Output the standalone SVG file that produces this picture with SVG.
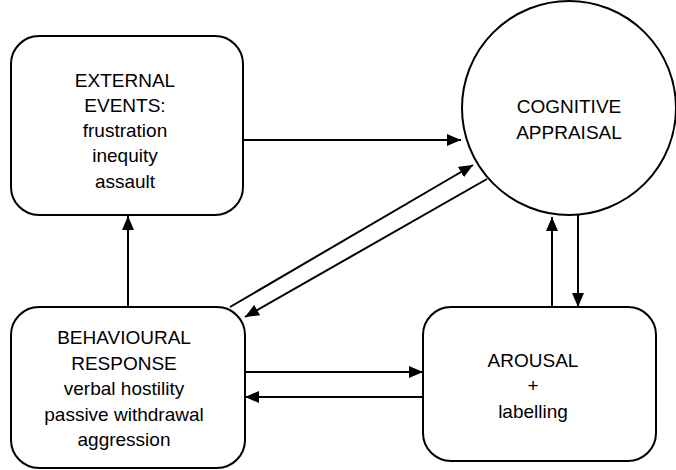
<svg xmlns="http://www.w3.org/2000/svg" width="676" height="470" viewBox="0 0 676 470">
<defs>
<marker id="ah" viewBox="0 0 14 12" refX="14" refY="6" markerWidth="14" markerHeight="12" markerUnits="userSpaceOnUse" orient="auto">
<path d="M0,0 L14,6 L0,12 Z" fill="#000"/>
</marker>
</defs>
<style>
.box{fill:#fff;stroke:#000;stroke-width:2}
.t{font-family:"Liberation Sans",Arial,sans-serif;font-size:19px;fill:#000;text-anchor:middle}
.c{stroke:#000;stroke-width:2;fill:none;marker-end:url(#ah)}
</style>
<rect width="676" height="470" fill="#fff"/>
<g id="connectors">
<line class="c" x1="243" y1="140" x2="461" y2="140"/>
<line class="c" x1="128" y1="307" x2="128" y2="216"/>
<line class="c" x1="230" y1="307" x2="473" y2="165"/>
<line class="c" x1="487" y1="179" x2="245" y2="317"/>
<line class="c" x1="552" y1="307" x2="552" y2="217"/>
<line class="c" x1="578" y1="215" x2="578" y2="307"/>
<line class="c" x1="245" y1="372" x2="423" y2="372"/>
<line class="c" x1="423" y1="397" x2="245" y2="397"/>
</g>
<g id="external">
<rect class="box" x="11" y="36" width="232" height="179" rx="28"/>
<text class="t" x="125" y="87">EXTERNAL</text>
<text class="t" x="125" y="112">EVENTS:</text>
<text class="t" x="125" y="137">frustration</text>
<text class="t" x="125" y="162">inequity</text>
<text class="t" x="125" y="188">assault</text>
</g>
<g id="cognitive">
<circle class="box" cx="569" cy="108" r="107"/>
<text class="t" x="569" y="113">COGNITIVE</text>
<text class="t" x="569" y="139">APPRAISAL</text>
</g>
<g id="behavioural">
<rect class="box" x="11" y="307" width="234" height="161" rx="28"/>
<text class="t" x="124" y="344">BEHAVIOURAL</text>
<text class="t" x="124" y="370">RESPONSE</text>
<text class="t" x="124" y="395">verbal hostility</text>
<text class="t" x="124" y="421">passive withdrawal</text>
<text class="t" x="124" y="446">aggression</text>
</g>
<g id="arousal">
<rect class="box" x="423" y="307" width="233" height="154" rx="28"/>
<text class="t" x="533" y="367">AROUSAL</text>
<text class="t" x="533" y="392">+</text>
<text class="t" x="533" y="418">labelling</text>
</g>
</svg>
